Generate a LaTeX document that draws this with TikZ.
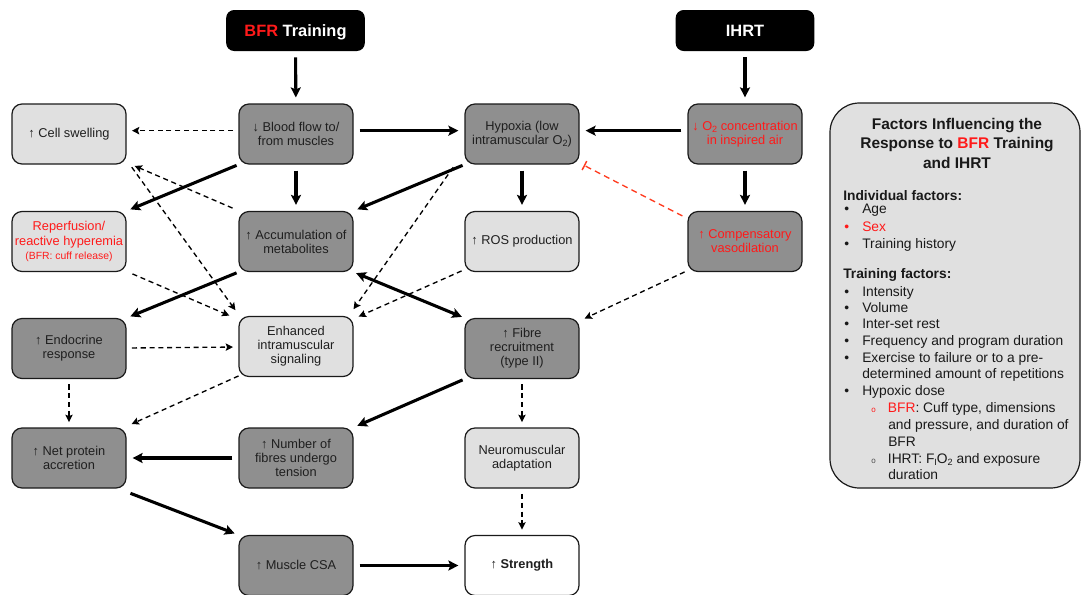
\documentclass[tikz,border=0pt]{standalone}
\usepackage{fontspec}
\setmainfont{Liberation Sans}
\usetikzlibrary{arrows.meta}
\definecolor{dk}{HTML}{8F8F8F}
\definecolor{lt}{HTML}{E0E0E0}
\definecolor{txtred}{HTML}{FF1A1A}
\definecolor{inhred}{HTML}{FF3B1F}
\definecolor{bd}{HTML}{1A1A1A}
\newcommand{\lowsub}[1]{\raisebox{-0.35ex}{\fontsize{6.8}{7}\selectfont #1}}
\begin{document}
\begin{tikzpicture}[x=0.75pt,y=-0.75pt,
  box/.style={draw=bd, line width=0.9pt, rounded corners=7.5pt, minimum width=85.5pt, minimum height=45pt, align=center, inner sep=2pt, font=\fontsize{9.6}{10.6}\selectfont, text=black!88},
  dkbox/.style={box, fill=dk},
  ltbox/.style={box, fill=lt},
  whbox/.style={box, fill=white},
  titlebox/.style={fill=black, rounded corners=6pt, minimum width=104pt, minimum height=30.75pt, text depth=0pt, font=\fontsize{12.3}{14}\selectfont\bfseries, text=white},
  solidarr/.style={line width=2.3pt, -{Stealth[length=7.5pt,width=7.5pt,inset=1.5pt]}, shorten >=4.5pt, shorten <=4.5pt},
  diagarr/.style={solidarr, shorten >=3pt, shorten <=1.5pt},
  dasharr/.style={line width=1pt, dash pattern=on 3.8pt off 2.8pt, -{Stealth[length=5.5pt,width=5.5pt,inset=1pt]}, shorten >=4pt, shorten <=4pt},
  ddiag/.style={dasharr, shorten >=2.5pt, shorten <=1.5pt},
  inh/.style={line width=1pt, draw=inhred, dash pattern=on 4.5pt off 3.2pt, -{Bar[width=7.5pt,line width=1.1pt]}, shorten >=1pt},
  ptxt/.style={anchor=base west, inner sep=0pt, font=\fontsize{10.35}{12}\selectfont, text=black!90},
  phead/.style={ptxt, font=\fontsize{10.35}{12}\selectfont\bfseries}
]
\useasboundingbox (0,0) rectangle (1082,594);

% title boxes
\node[titlebox] (bfr) at (295.5,30.5) {\textcolor{txtred}{BFR} Training};
\node[titlebox] (ihrt) at (745,30.5) {IHRT};

% row 1
\node[ltbox] (cs) at (69,134) {↑ Cell swelling};
\node[dkbox] (bf) at (296,134) {↓ Blood flow to/\\from muscles};
\node[dkbox] (hy) at (522,134) {Hypoxia (low\\intramuscular O\lowsub{2})};
\node[dkbox, text=txtred] (o2) at (745,134) {↓ O\lowsub{2} concentration\\in inspired air};
% row 2
\node[ltbox, text=txtred] (rp) at (69,241.5) {Reperfusion/\\reactive hyperemia\\{\fontsize{7.8}{10}\selectfont (BFR: cuff release)}};
\node[dkbox] (ac) at (296,241.5) {↑ Accumulation of\\metabolites};
\node[ltbox] (ros) at (522,241.5) {↑ ROS production};
\node[dkbox, text=txtred] (cv) at (745,241.5) {↑ Compensatory\\vasodilation};
% row 3
\node[dkbox] (en) at (69,348.5) {↑ Endocrine\\response};
\node[ltbox] (ei) at (296,346.5) {Enhanced\\intramuscular\\signaling};
\node[dkbox] (fr) at (522,348.5) {↑ Fibre\\recruitment\\(type II)};
% row 4
\node[dkbox] (np) at (69,458) {↑ Net protein\\accretion};
\node[dkbox] (nf) at (296,458) {↑ Number of\\fibres undergo\\tension};
\node[ltbox] (nm) at (522,458) {Neuromuscular\\adaptation};
% row 5
\node[dkbox] (csa) at (296,565.5) {↑ Muscle CSA};
\node[whbox] (st) at (522,565.5) {↑ \textbf{Strength}};

% solid arrows
\draw[solidarr] (bfr) -- (bf);
\draw[solidarr] (ihrt) -- (o2);
\draw[solidarr] ([yshift=2.5pt]bf.east) -- ([yshift=2.5pt]hy.west);
\draw[solidarr] ([yshift=2.5pt]o2.west) -- ([yshift=2.5pt]hy.east);
\draw[solidarr] (bf) -- (ac);
\draw[solidarr] (hy) -- (ros);
\draw[solidarr] (o2) -- (cv);
\draw[diagarr] (bf.south west) -- (rp.north east);
\draw[diagarr] (hy.south west) -- (ac.north east);
\draw[diagarr] (ac.south west) -- (en.north east);
\draw[solidarr, {Stealth[length=7.5pt,width=7.5pt,inset=1.5pt]}-{Stealth[length=7.5pt,width=7.5pt,inset=1.5pt]}, shorten <=2pt, shorten >=2pt] (ac.south east) -- (fr.north west);
\draw[diagarr] (fr.south west) -- (nf.north east);
\draw[solidarr] (nf) -- (np);
\draw[diagarr] ([shift={(2,4)}]np.south east) -- (csa.north west);
\draw[solidarr] (csa) -- (st);

% dashed arrows
\draw[dasharr] ([yshift=2.5pt]bf.west) -- ([yshift=2.5pt]cs.east);
\draw[ddiag] ([shift={(-4,-2)}]ac.north west) -- ([shift={(5,0)}]cs.south east);
\draw[ddiag] ([shift={(4,1)}]cs.south east) -- ([shift={(-1,-3)}]ei.north west);
\draw[ddiag] ([shift={(4,1)}]rp.south east) -- ([shift={(-6,1)}]ei.north west);
\draw[dasharr] (en) -- (ei);
\draw[ddiag] ([shift={(-10,1)}]hy.south west) -- ([shift={(-2,-4)}]ei.north east);
\draw[ddiag] ([shift={(-1,-2)}]ros.south west) -- ([shift={(2,2)}]ei.north east);
\draw[ddiag] ([shift={(-1,-1)}]cv.south west) -- ([shift={(2,2)}]fr.north east);
\draw[dasharr] (en) -- (np);
\draw[ddiag] ([shift={(2,-2)}]ei.south west) -- ([shift={(2,-2)}]np.north east);
\draw[dasharr] (fr) -- (nm);
\draw[dasharr] (nm) -- (st);

% inhibition
\draw[inh] ([shift={(-5,5)}]cv.north west) -- ([shift={(3,0)}]hy.south east);

% factors panel
\node[draw=bd, line width=0.9pt, fill=lt, rounded corners=22pt, minimum width=187.5pt, minimum height=288.75pt] (panel) at (955,295.5) {};
\node[font=\fontsize{11.6}{14.6}\selectfont\bfseries, align=center, text=black!90] (ptitle) at (957,143) {Factors Influencing the\\Response to \textcolor{txtred}{BFR} Training\\and IHRT};
\node[phead] (h1) at (843,200) {Individual factors:};
\node[ptxt] (l1) at (844,213) {\makebox[13.5pt][l]{•}Age};
\node[ptxt, text=txtred] (l2) at (844,231) {\makebox[13.5pt][l]{•}Sex};
\node[ptxt] (l3) at (844,248) {\makebox[13.5pt][l]{•}Training history};
\node[phead] (h2) at (843,278) {Training factors:};
\node[ptxt] (l4) at (844,296) {\makebox[13.5pt][l]{•}Intensity};
\node[ptxt] (l5) at (844,312) {\makebox[13.5pt][l]{•}Volume};
\node[ptxt] (l6) at (844,328.5) {\makebox[13.5pt][l]{•}Inter-set rest};
\node[ptxt] (l7) at (844,345) {\makebox[13.5pt][l]{•}Frequency and program duration};
\node[ptxt] (l8) at (844,362) {\makebox[13.5pt][l]{•}Exercise to failure or to a pre-};
\node[ptxt] (l9) at (862,378.5) {determined amount of repetitions};
\node[ptxt] (l10) at (844,395) {\makebox[13.5pt][l]{•}Hypoxic dose};
\node[ptxt] (l11) at (871,412) {\makebox[12.5pt][l]{\textcolor{txtred}{\fontsize{6}{6}\selectfont o}}\textcolor{txtred}{BFR}: Cuff type, dimensions};
\node[ptxt] (l12) at (888,429) {and pressure, and duration of};
\node[ptxt] (l13) at (888,446) {BFR};
\node[ptxt] (l14) at (871,463) {\makebox[12.5pt][l]{\textcolor{black!70}{\fontsize{6}{6}\selectfont o}}IHRT: F\lowsub{I}O\lowsub{2} and exposure};
\node[ptxt] (l15) at (888,479.5) {duration};
\end{tikzpicture}
\end{document}
